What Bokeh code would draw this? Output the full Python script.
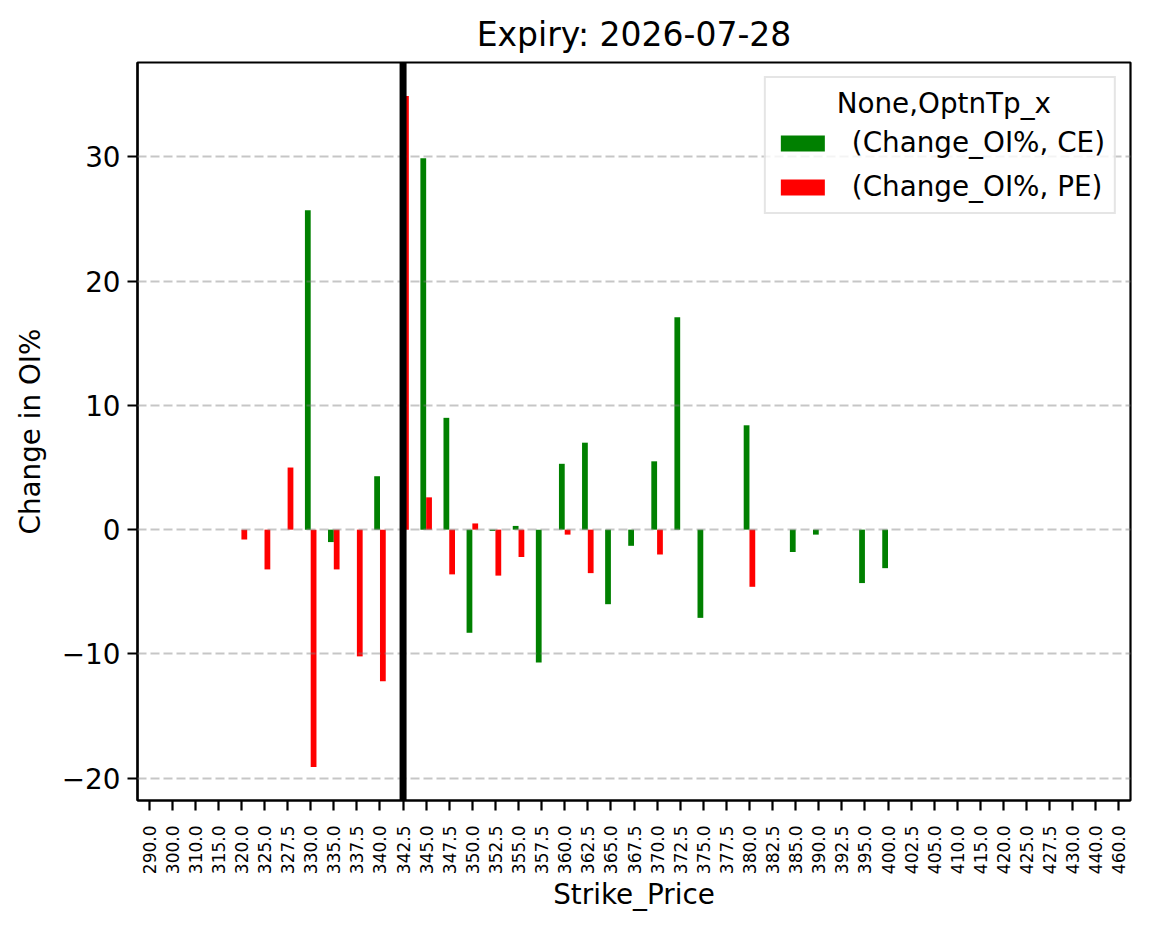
import math
from bokeh.plotting import figure
from bokeh.models import ColumnDataSource, FixedTicker, Span, Legend, LegendItem, Range1d
from bokeh.transform import dodge
from bokeh.embed import file_html
from bokeh.resources import INLINE

nan = float("nan")

strikes = ["290.0", "300.0", "310.0", "315.0", "320.0", "325.0", "327.5", "330.0", "335.0",
           "337.5", "340.0", "342.5", "345.0", "347.5", "350.0", "352.5", "355.0", "357.5",
           "360.0", "362.5", "365.0", "367.5", "370.0", "372.5", "375.0", "377.5", "380.0",
           "382.5", "385.0", "390.0", "392.5", "395.0", "400.0", "402.5", "405.0", "410.0",
           "415.0", "420.0", "425.0", "427.5", "430.0", "440.0", "460.0"]

ce_change = [nan, nan, nan, nan, nan, nan, nan, 25.7, -1.0,
             nan, 4.3, nan, 29.9, 9.0, -8.3, -0.1, 0.3, -10.7,
             5.3, 7.0, -6.0, -1.3, 5.5, 17.1, -7.1, nan, 8.4,
             nan, -1.8, -0.4, nan, -4.3, -3.1, nan, nan, nan,
             nan, nan, nan, nan, nan, nan, nan]

pe_change = [nan, nan, nan, nan, -0.8, -3.2, 5.0, -19.1, -3.2,
             -10.2, -12.2, 34.9, 2.6, -3.6, 0.5, -3.7, -2.2, nan,
             -0.4, -3.5, nan, nan, -2.0, nan, nan, nan, -4.6,
             nan, nan, nan, nan, nan, nan, nan, nan, nan,
             nan, nan, nan, nan, nan, nan, nan]

spot_strike = "342.5"
y_ticks = [-20, -10, 0, 10, 20, 30]

FONT = "DejaVu Sans"
idx = list(range(len(strikes)))

src = ColumnDataSource(dict(x=idx, ce=ce_change, pe=pe_change))

p = figure(width=1149, height=928, output_backend="svg", toolbar_location=None,
           x_range=Range1d(-0.5, len(strikes) - 0.5), y_range=Range1d(-21.8, 37.6),
           title="Expiry: 2026-07-28")
p.min_border_left = 137
p.min_border_right = 19
p.min_border_top = 62
p.min_border_bottom = 128

p.title.align = "center"
p.title.text_font = FONT
p.title.text_font_size = "33px"
p.title.text_font_style = "normal"
p.title.text_color = "black"
p.title.standoff = 17

ce_r = p.vbar(x=dodge("x", -0.125, range=p.x_range), top="ce", bottom=0, width=0.25,
              source=src, fill_color="green", line_color=None)
pe_r = p.vbar(x=dodge("x", 0.125, range=p.x_range), top="pe", bottom=0, width=0.25,
              source=src, fill_color="red", line_color=None)

p.add_layout(Span(location=strikes.index(spot_strike), dimension="height",
                  line_color="black", line_width=7))

# axes
p.xaxis.ticker = FixedTicker(ticks=idx)
p.xaxis.major_label_overrides = {i: s for i, s in enumerate(strikes)}
p.xaxis.major_label_orientation = math.pi / 2
p.xaxis.major_label_text_font_size = "17px"
p.xaxis.axis_label = "Strike_Price"
p.yaxis.ticker = FixedTicker(ticks=y_ticks)
p.yaxis.major_label_overrides = {t: (("\u2212" + str(-t)) if t < 0 else str(t)) for t in y_ticks}
p.yaxis.major_label_text_font_size = "27.8px"
p.yaxis.axis_label = "Change in OI%"

for ax in (p.xaxis[0], p.yaxis[0]):
    ax.major_label_text_font = FONT
    ax.major_label_text_color = "black"
    ax.axis_label_text_font = FONT
    ax.axis_label_text_font_size = "27.8px"
    ax.axis_label_text_font_style = "normal"
    ax.axis_label_text_color = "black"
    ax.axis_line_color = "black"
    ax.axis_line_width = 2.2
    ax.major_tick_line_color = "black"
    ax.major_tick_line_width = 2.2
    ax.major_tick_out = 10
    ax.major_tick_in = 0
    ax.minor_tick_line_color = None

p.xaxis.major_label_standoff = 15
p.yaxis.major_label_standoff = 7
p.xaxis.axis_label_standoff = 1
p.yaxis.axis_label_standoff = 12

p.outline_line_color = "black"
p.outline_line_width = 2.2
p.outline_line_alpha = 1

p.xgrid.grid_line_color = None
p.ygrid.grid_line_color = "gray"
p.ygrid.grid_line_alpha = 0.45
p.ygrid.grid_line_dash = "9 4"
p.ygrid.grid_line_width = 2
p.ygrid.level = "guide"

legend_title = "None,OptnTp_x"
legend = Legend(items=[LegendItem(label="(Change_OI%, CE)", renderers=[ce_r]),
                       LegendItem(label="(Change_OI%, PE)", renderers=[pe_r])],
                location="top_right", title="\u00a0" * 7 + legend_title)
legend.title_text_font = FONT
legend.title_text_font_size = "27.8px"
legend.title_text_font_style = "normal"
legend.title_text_color = "black"
legend.label_text_font = FONT
legend.label_text_font_size = "27.8px"
legend.label_text_color = "black"
legend.glyph_width = 55
legend.glyph_height = 20
legend.label_height = 30
legend.label_standoff = 22
legend.spacing = 11
legend.padding = 9
legend.margin = 14
legend.title_standoff = 6
legend.border_line_color = "#cccccc"
legend.border_line_width = 2
legend.background_fill_alpha = 0.8
p.add_layout(legend)

open("out.html", "w").write(file_html(p, INLINE))
